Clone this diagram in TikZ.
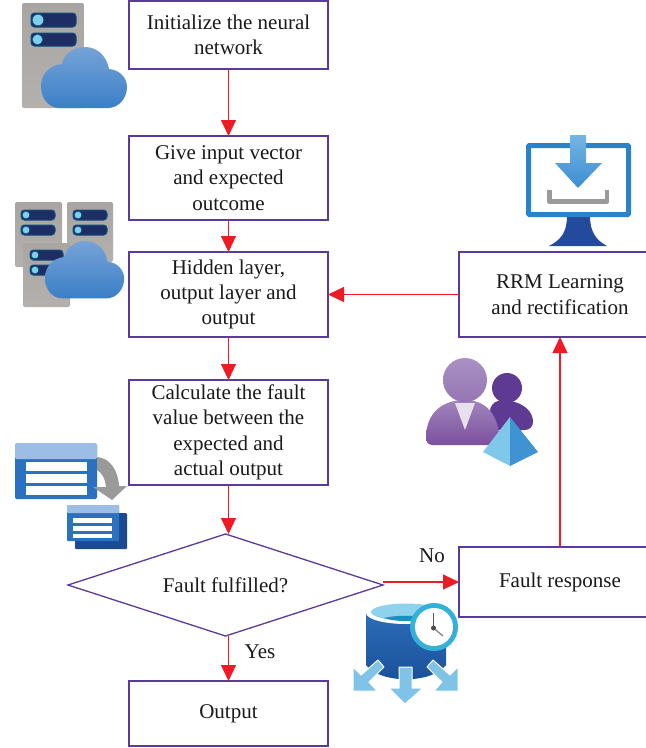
\documentclass[tikz,border=0pt]{standalone}
\usepackage{fontspec}
\setmainfont{Liberation Serif}
\usetikzlibrary{arrows.meta,shapes.geometric}
\definecolor{boxline}{HTML}{5B3A9E}
\definecolor{flowred}{HTML}{ED1C24}
\definecolor{txt}{HTML}{1A1A1A}
\definecolor{srvA}{HTML}{A9A5A3}
\definecolor{srvB}{HTML}{B4B0AE}
\definecolor{pill}{HTML}{1E2D63}
\definecolor{pillrim}{HTML}{0F4F7C}
\definecolor{led}{HTML}{7FD0EE}
\definecolor{cloudA}{HTML}{76A3D8}
\definecolor{cloudB}{HTML}{3A7FC6}
\definecolor{frameblue}{HTML}{2A83C9}
\definecolor{standblue}{HTML}{244A9C}
\definecolor{arrA}{HTML}{74B5E3}
\definecolor{arrB}{HTML}{3D8DD2}
\definecolor{greyicon}{HTML}{9A9A9A}
\definecolor{purA}{HTML}{A085BC}
\definecolor{purB}{HTML}{7C509F}
\definecolor{purC}{HTML}{5F3A93}
\definecolor{collar}{HTML}{E9E0EE}
\definecolor{pyrA}{HTML}{7FC8EA}
\definecolor{pyrB}{HTML}{3F93D3}
\definecolor{tabhead}{HTML}{9CBDE6}
\definecolor{tabbody}{HTML}{2A72C0}
\definecolor{tabdark}{HTML}{1B4A93}
\definecolor{cylA}{HTML}{2B6CB8}
\definecolor{cylB}{HTML}{1A4F9A}
\definecolor{cyltop}{HTML}{8FD2EC}
\definecolor{cylin}{HTML}{1F8FC0}
\definecolor{clockrim}{HTML}{35B0D8}
\definecolor{spill}{HTML}{7FC4E6}
\tikzset{
  x=1pt,y=-1pt,
  box/.style={draw=boxline,line width=1.3pt,fill=white,align=center,text=txt,
    inner sep=0pt,outer sep=0pt,font=\fontsize{21}{25.4}\selectfont},
  tag/.style={text=txt,inner sep=0pt,font=\fontsize{21}{25.4}\selectfont},
  flow/.style={draw=flowred,line width=1.2pt,-{Triangle[length=16pt,width=15pt,fill=flowred]}},
  server/.style={rounded corners=2pt,top color=srvA,bottom color=srvB,draw=none},
  pillbar/.style={rounded corners=4.5pt,fill=pill,draw=pillrim,line width=1pt},
  ledlamp/.style={fill=led,draw=pillrim,line width=.6pt},
}
\newcommand{\cloudicon}[4]{% x, y, xscale, yscale: origin at icon-1 cloud position
  \path[shift={(#1,#2)},xscale=#3,yscale=#4,top color=cloudA,bottom color=cloudB,draw=none]
   (19,61) .. controls (8,61) and (0,52) .. (0,39) .. controls (0,27) and (9,18) .. (21,17)
   .. controls (23,7) and (33,0) .. (44,0) .. controls (57,0) and (66,10) .. (68,22)
   .. controls (79,23) and (86,31) .. (86,40) .. controls (86,52) and (77,61) .. (67,61) -- cycle;}
\newcommand{\srvpill}[4]{% x0,x1,y0,y1
  \path[pillbar,rounded corners=3.5pt] (#1,#3) rectangle (#2,#4);
  \path[ledlamp] ({#1+(#4-#3)/2},{(#3+#4)/2}) circle[radius={(#4-#3)/2-1.2}];}
\begin{document}
\begin{tikzpicture}
\useasboundingbox (0,0) rectangle (646,748);
\fill[white] (0,0) rectangle (646,748);

% --- icon: server and cloud
\path[server] (22,3) rectangle (84,108);
\srvpill{31}{76}{13}{27}
\srvpill{31}{76}{33}{46}
\cloudicon{41}{47}{1}{1}

% --- icon: three servers and cloud
\path[server] (15,202) rectangle (62,267);
\path[server] (67,202) rectangle (113,262);
\srvpill{21}{55}{210}{220}
\srvpill{21}{55}{225}{235}
\srvpill{73}{107}{210}{220}
\srvpill{73}{107}{225}{235}
\path[server] (23,243) rectangle (70,307);
\srvpill{30}{63}{250}{260}
\srvpill{30}{63}{265}{275}
\cloudicon{45}{241}{.92}{.94}

% --- icon: monitor
\fill[standblue] (567,216) -- (590,216) .. controls (590,232) and (596,240) .. (607,246)
  -- (549,246) .. controls (561,240) and (567,232) .. (567,216) -- cycle;
\draw[frameblue,line width=5pt,fill=white,rounded corners=1pt] (528.5,145.5) rectangle (628.5,214.5);
\path[top color=arrA,bottom color=arrB] (570,135) -- (586,135) -- (586,163) -- (602,163)
  -- (578,188) -- (555,163) -- (570,163) -- cycle;
\draw[greyicon,line width=4.5pt,line join=round] (549.5,190) -- (549.5,201.5) -- (607,201.5) -- (607,190);

% --- icon: persons and pyramid
\fill[purC] (507,388) circle[radius=15];
\fill[purC,rounded corners=8pt] (490,403) .. controls (510,398) and (533,405) .. (533,430) -- (490,430) -- cycle;
\path[top color=purA,bottom color=purB] (426,438) .. controls (426,415) and (440,400) .. (465,400)
  .. controls (490,400) and (500,420) .. (500,445) -- (433,445) .. controls (428,445) and (426,442) .. (426,438) -- cycle;
\path[top color=purA!90!white,bottom color=purA!70!purB] (465,380) circle[radius=22];
\fill[collar] (455,403) -- (475,403) -- (465,430) -- cycle;
\fill[pyrA] (510,417) -- (483,452) -- (510,466) -- cycle;
\fill[pyrB] (510,417) -- (538,452) -- (510,466) -- cycle;

% --- icon: tables
\fill[tabbody,rounded corners=1.5pt] (15,443) rectangle (97,499);
\fill[tabhead,rounded corners=1.5pt] (15,443) rectangle (97,459);
\fill[white] (26,462) rectangle (87,471);
\fill[white] (26,474) rectangle (87,483);
\fill[white] (26,486) rectangle (87,495);
\fill[greyicon] (97,457) .. controls (110,458) and (118,470) .. (119,486) -- (127,486) -- (112,500)
  -- (93,487) -- (106,487) .. controls (105,478) and (102,473) .. (97,470) -- cycle;
\fill[tabdark,rounded corners=1pt] (75,513) rectangle (127,549);
\fill[tabbody,rounded corners=1pt] (67,505) rectangle (119,541);
\fill[tabhead,rounded corners=1pt] (67,505) rectangle (119,513);
\fill[white] (73,518) rectangle (112,523);
\fill[white] (73,526) rectangle (112,530.5);
\fill[white] (73,533.5) rectangle (112,538);

% --- icon: database with clock
\path[top color=cylA,bottom color=cylB] (366,613) -- (366,665) .. controls (380,684) and (432,684) .. (446,665) -- (446,613) -- cycle;
\fill[white] (406,613) ellipse[x radius=40,y radius=11];
\fill[cyltop] (406,612) ellipse[x radius=35,y radius=8.5];
\fill[cylin] (384,618) .. controls (395,615) and (417,615) .. (428,618) .. controls (417,622) and (395,622) .. (384,618) -- cycle;
\fill[clockrim] (434,627) circle[radius=24];
\fill[white] (434,627) circle[radius=19];
\draw[black!65,line width=1.4pt] (433.5,628) -- (433.5,613);
\draw[black!45,line width=1.4pt] (433.5,628) -- (443,636);
\fill[black!70] (433.5,628) circle[radius=2.5];
\path[fill=spill,draw=white,line width=1pt,line join=round]
  (399,667) -- (412,667) -- (412,688) -- (423,688) -- (405,704) -- (389,688) -- (399,688) -- cycle;
\path[fill=spill,draw=white,line width=1pt,line join=round]
  (353,667) -- (361,675) -- (378,660) -- (384,667) -- (369,682) -- (377,691) -- (353,691) -- cycle;
\path[fill=spill,draw=white,line width=1pt,line join=round]
  (458,667) -- (450,675) -- (433,660) -- (427,667) -- (442,682) -- (434,691) -- (458,691) -- cycle;

% --- flow nodes
\node[box,minimum width=199pt,minimum height=68pt] (init) at (228.5,35) {Initialize the neural\\network};
\node[box,minimum width=199pt,minimum height=84pt] (give) at (228.5,178) {Give input vector\\and expected\\outcome};
\node[box,minimum width=199pt,minimum height=85pt] (hidden) at (228.5,294.5) {Hidden layer,\\output layer and\\output};
\node[box,minimum width=199pt,minimum height=105pt] (calc) at (228.5,432.5) {Calculate the fault\\value between the\\expected and\\actual output};
\node[box,shape=diamond,aspect=3.09,minimum width=315pt,minimum height=102pt] (fault) at (225.5,585) {Fault fulfilled?};
\node[box,minimum width=199pt,minimum height=65pt] (output) at (228.5,713.5) {Output};
\node[box,minimum width=202pt,minimum height=85pt] (rrm) at (560,294.5) {RRM Learning\\and rectification};
\node[box,minimum width=202pt,minimum height=70pt] (resp) at (560,582) {Fault response};

% --- connectors
\draw[flow] (init) -- (give);
\draw[flow] (give) -- (hidden);
\draw[flow] (hidden) -- (calc);
\draw[flow] (calc.south) -- (calc.south |- fault.north);
\draw[flow] (calc.south |- fault.south) -- (output.north);
\draw[flow] (fault.east |- resp.west) -- (resp.west);
\draw[flow] (resp.north) -- (rrm.south);
\draw[flow] (rrm.west) -- (hidden.east);

% --- labels
\node[tag] (lblno) at (432,556) {No};
\node[tag] (lblyes) at (260,652) {Yes};
\end{tikzpicture}
\end{document}
